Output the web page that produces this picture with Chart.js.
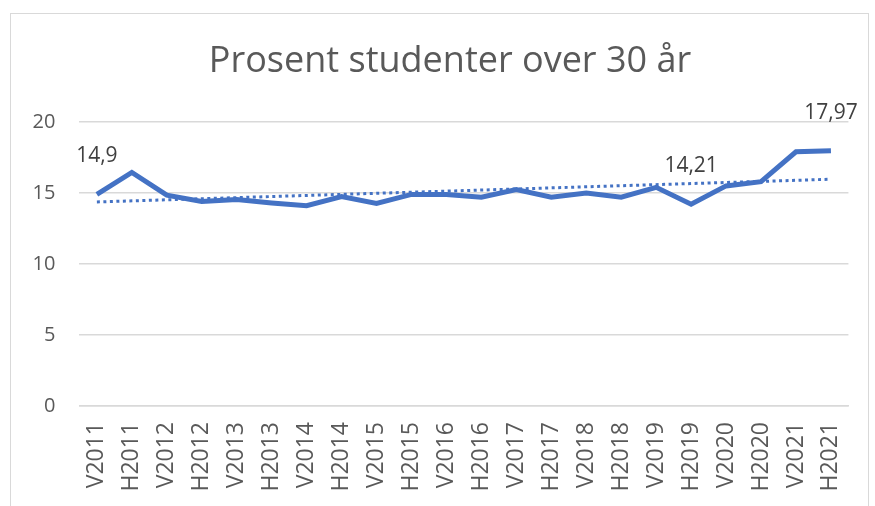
<!DOCTYPE html>
<html>
<head>
<meta charset="utf-8">
<script src="https://cdn.jsdelivr.net/npm/chart.js@4/dist/chart.umd.min.js"></script>
<style>
  html, body { margin: 0; padding: 0; background: #fff; }
  #frame { position: absolute; left: 10px; top: 13px; width: 857px; height: 520px; border: 1.5px solid #d9d9d9; }
  #chart { position: absolute; left: 0; top: 0; }
</style>
</head>
<body>
<div id="frame"></div>
<canvas id="chart" width="875" height="506"></canvas>
<script>
const chartTitle = "Prosent studenter over 30 år";
const semesters = ["V2011", "H2011", "V2012", "H2012", "V2013", "H2013", "V2014", "H2014", "V2015", "H2015", "V2016",
  "H2016", "V2017", "H2017", "V2018", "H2018", "V2019", "H2019", "V2020", "H2020", "V2021", "H2021"];
const percentOver30 = [14.9, 16.45, 14.85, 14.4, 14.55, 14.3, 14.1, 14.75, 14.27, 14.9, 14.9,
  14.7, 15.25, 14.7, 15.0, 14.7, 15.4, 14.21, 15.5, 15.8, 17.9, 17.97];
// trend line ends (dotted line)
const trendStart = 14.37;
const trendEnd = 15.97;
const labelledPoints = [0, 17, 21];
const yTicks = [0, 5, 10, 15, 20];

const trend = semesters.map((s, i) => i == 0 ? trendStart : (i == semesters.length - 1 ? trendEnd : null));

// point labels + title (title sits centred on the frame, not on the plot)
const extras = {
  id: "extras",
  afterDraw(chart) {
    const ctx = chart.ctx;
    const meta = chart.getDatasetMeta(0);
    ctx.save();
    ctx.textAlign = "center";
    ctx.textBaseline = "middle";
    ctx.font = "36px 'Open Sans'";
    ctx.fillStyle = "#595959";
    ctx.fillText(chartTitle, 450, 62);
    ctx.font = "21px 'Open Sans'";
    ctx.fillStyle = "#404040";
    labelledPoints.forEach((i) => {
      const pt = meta.data[i];
      ctx.fillText(String(percentOver30[i]).replace(".", ","), pt.x, pt.y - 38);
    });
    ctx.restore();
  },
};

new Chart(document.getElementById("chart"), {
  type: "line",
  data: {
    labels: semesters,
    datasets: [
      {
        data: percentOver30,
        borderColor: "#4472C4",
        borderWidth: 5,
        pointRadius: 0,
        tension: 0,
        fill: false,
      },
      {
        data: trend,
        borderColor: "#4472C4",
        borderWidth: 3,
        borderDash: [3, 3.5],
        pointRadius: 0,
        spanGaps: true,
        fill: false,
      },
    ],
  },
  options: {
    responsive: false,
    animation: false,
    devicePixelRatio: 1,
    layout: { padding: { left: 0, right: 20.4, top: 122, bottom: 0 } },
    plugins: {
      legend: { display: false },
      tooltip: { enabled: false },
      title: { display: false },
    },
    scales: {
      x: {
        offset: true,
        grid: { display: false, drawTicks: false },
        border: { display: true, color: "#d9d9d9", width: 1.5 },
        ticks: {
          color: "#595959",
          font: { family: "'Open Sans'", size: 23 },
          minRotation: 90,
          maxRotation: 90,
          padding: 16,
          autoSkip: false,
        },
        afterFit(scale) { scale.height = 100; },
      },
      y: {
        min: 0,
        max: 20,
        afterBuildTicks(scale) { scale.ticks = yTicks.map((v) => ({ value: v })); },
        grid: { color: "#d9d9d9", lineWidth: 1.5, drawTicks: false },
        border: { display: false },
        ticks: {
          color: "#595959",
          font: { family: "'Open Sans'", size: 20 },
          padding: 24,
        },
        afterFit(scale) { scale.width = 79.4; },
      },
    },
  },
  plugins: [extras],
});
</script>
</body>
</html>
